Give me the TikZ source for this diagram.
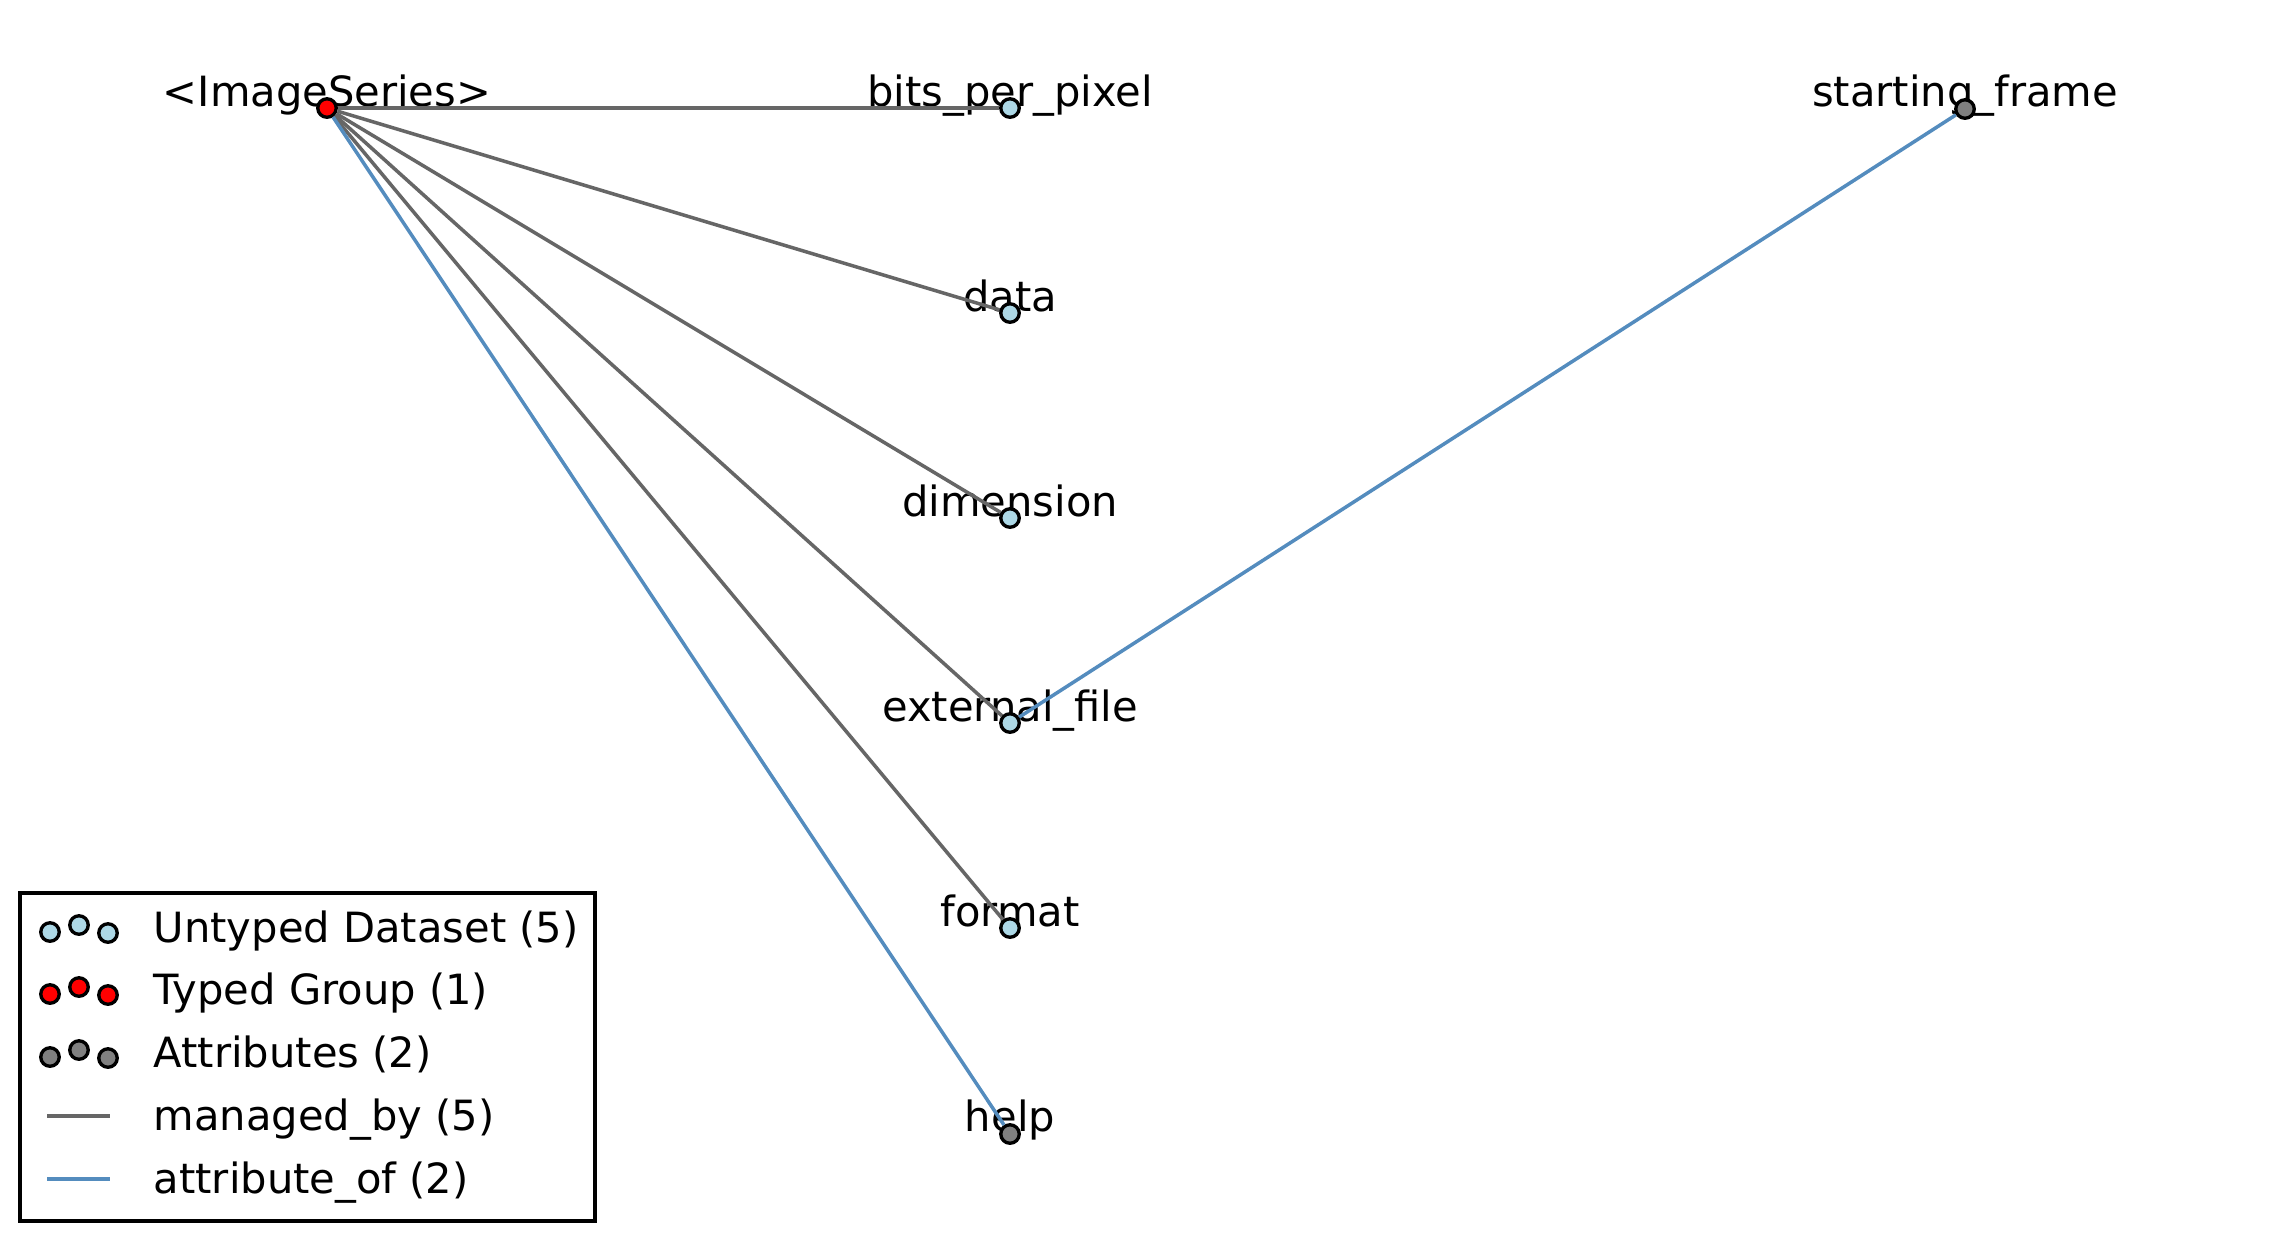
\documentclass[tikz,border=0pt]{standalone}
\usepackage{fontspec}
\setmainfont{DejaVu Sans}
\usepackage{xcolor}
\definecolor{dsetblue}{RGB}{173,216,230}
\definecolor{attrgray}{RGB}{128,128,128}
\definecolor{mgdgray}{RGB}{102,102,102}
\definecolor{attrblue}{RGB}{84,140,190}

\begin{document}
\begin{tikzpicture}[-, x=0.1mm, y=-0.1mm,
  dset node/.style={circle, draw, fill=dsetblue, line width=0.95pt, minimum size=1.85mm, inner sep=0pt},
  group node/.style={dset node, fill=red},
  attr node/.style={dset node, fill=attrgray},
  txt/.style={anchor=base, inner sep=0pt, font=\fontsize{11.85}{14}\selectfont},
  key txt/.style={txt, anchor=base west},
  managed/.style={draw=mgdgray, line width=1pt},
  attrof/.style={draw=attrblue, line width=1pt}]
\useasboundingbox (0,0) rectangle (2292,1242);
% labels
\node[txt] (l1) at (327,106) {<ImageSeries>};
\node[txt] (l2) at (1010,106) {bits\_per\_pixel};
\node[txt] (l3) at (1010,311) {data};
\node[txt] (l4) at (1010,516) {dimension};
\node[txt] (l5) at (1010,721) {external\_file};
\node[txt] (l6) at (1010,926) {format};
\node[txt] (l7) at (1010,1131) {help};
\node[txt] (l8) at (1965,106) {starting\_frame};
% nodes
\node[group node] (1) at (327,108) {};
\node[dset node] (2) at (1010,108) {};
\node[dset node] (3) at (1010,313) {};
\node[dset node] (4) at (1010,518) {};
\node[dset node] (5) at (1010,723) {};
\node[dset node] (6) at (1010,928) {};
\node[attr node] (7) at (1010,1134) {};
\node[attr node] (8) at (1965,109) {};
\path[managed]
(1) edge (2)
(1) edge (3)
(1) edge (4)
(1) edge (5)
(1) edge (6);
\path[attrof]
(1) edge (7)
(5) edge (8);
% legend
\draw[line width=0.95pt] (20,893) rectangle (595,1221);
\node[dset node] (k1) at (50,932) {};
\node[dset node] (k2) at (79,925) {};
\node[dset node] (k3) at (108,933) {};
\node[group node] (k4) at (50,994) {};
\node[group node] (k5) at (79,987) {};
\node[group node] (k6) at (108,995) {};
\node[attr node] (k7) at (50,1057) {};
\node[attr node] (k8) at (79,1050) {};
\node[attr node] (k9) at (108,1058) {};
\draw[managed] (47,1116) -- (110,1116);
\draw[attrof] (47,1179) -- (110,1179);
\node[key txt] (t1) at (153,942) {Untyped Dataset (5)};
\node[key txt] (t2) at (153,1004) {Typed Group (1)};
\node[key txt] (t3) at (153,1067) {Attributes (2)};
\node[key txt] (t4) at (153,1130) {managed\_by (5)};
\node[key txt] (t5) at (153,1193) {attribute\_of (2)};
\end{tikzpicture}
\end{document}
